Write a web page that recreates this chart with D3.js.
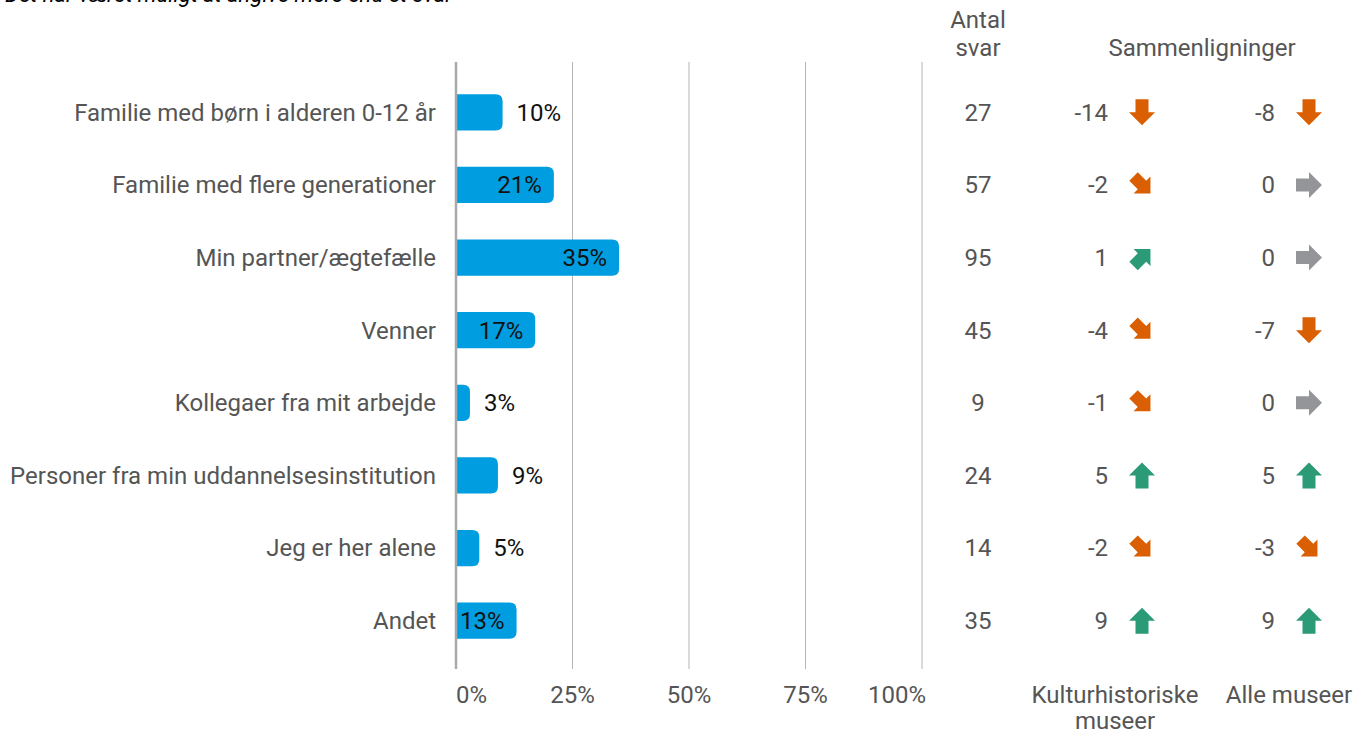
<!DOCTYPE html>
<html><head><meta charset="utf-8">
<script src="https://cdn.jsdelivr.net/npm/d3@7"></script>
<style>
body{margin:0;background:#fff;}
svg{display:block;font-family:Roboto, sans-serif;}
</style></head>
<body><svg id="c" width="1354" height="734"></svg>
<script>
const subtitle = "Det har været muligt at angive mere end ét svar";
const categories = ["Familie med børn i alderen 0-12 år","Familie med flere generationer","Min partner/ægtefælle","Venner","Kollegaer fra mit arbejde","Personer fra min uddannelsesinstitution","Jeg er her alene","Andet"];
const percents = [10,21,35,17,3,9,5,13];
const antalSvar = [27,57,95,45,9,24,14,35];
const compKultur = [-14,-2,1,-4,-1,5,-2,9];
const compAlle = [-8,0,0,-7,0,5,-3,9];
const tickValues = [0,25,50,75,100];
const compHeaders = ["Kulturhistoriske\nmuseer","Alle museer"];

const FS = 24;
const svg = d3.select("#c");
const x = d3.scaleLinear().domain([0,100]).range([456,922]);
const y = d3.scaleBand().domain(categories).range([76,657]).paddingInner(0.5).paddingOuter(0.25);

// subtitle (clipped at top)
svg.append("text").attr("x",5).attr("y",2).attr("font-size",22).attr("font-style","italic").attr("fill","#000").text(subtitle);

// grid
svg.append("g").selectAll("line").data(tickValues.slice(1)).join("line")
  .attr("x1",d=>x(d)).attr("x2",d=>x(d)).attr("y1",62).attr("y2",669)
  .attr("stroke","#b5b5b5").attr("stroke-width",1);

// bars (rounded right end only)
const bh = y.bandwidth(), r = 7;
svg.append("g").selectAll("path").data(categories).join("path")
  .attr("d",(d,i)=>{
    const x0 = x(0), x1 = x(percents[i]), y0 = y(d), y1 = y0+bh;
    const rr = Math.min(r,(x1-x0));
    return `M${x0},${y0}H${x1-rr}Q${x1},${y0} ${x1},${y0+rr}V${y1-rr}Q${x1},${y1} ${x1-rr},${y1}H${x0}Z`;
  })
  .attr("fill","#009de0");

// axis line
svg.append("line").attr("x1",x(0)).attr("x2",x(0)).attr("y1",62).attr("y2",669).attr("stroke","#aaaaaa").attr("stroke-width",2.5);

// value labels
svg.append("g").selectAll("text").data(categories).join("text")
  .attr("x",(d,i)=> percents[i]>=13 ? x(percents[i])-12 : x(percents[i])+14)
  .attr("text-anchor",(d,i)=> percents[i]>=13 ? "end" : "start")
  .attr("y",d=>y(d)+bh/2).attr("dy","0.35em")
  .attr("font-size",FS).attr("fill","#111")
  .text((d,i)=>percents[i]+"%");

// category labels
svg.append("g").selectAll("text").data(categories).join("text")
  .attr("x",436).attr("y",d=>y(d)+bh/2).attr("dy","0.35em")
  .attr("text-anchor","end").attr("font-size",FS).attr("fill","#555")
  .text(d=>d);

// tick labels
svg.append("g").selectAll("text").data(tickValues).join("text")
  .attr("x",d=>d===0?x(d):d===100?x(d)+4:x(d))
  .attr("text-anchor",d=>d===0?"start":d===100?"end":"middle")
  .attr("y",695).attr("dy","0.35em")
  .attr("font-size",FS).attr("fill","#555")
  .text(d=>d+"%");

// Antal svar
svg.append("text").attr("x",978).attr("y",20).attr("dy","0.35em").attr("text-anchor","middle").attr("font-size",FS).attr("fill","#555").text("Antal");
svg.append("text").attr("x",978).attr("y",48).attr("dy","0.35em").attr("text-anchor","middle").attr("font-size",FS).attr("fill","#555").text("svar");
svg.append("g").selectAll("text").data(categories).join("text")
  .attr("x",978).attr("y",d=>y(d)+bh/2).attr("dy","0.35em")
  .attr("text-anchor","middle").attr("font-size",FS).attr("fill","#555")
  .text((d,i)=>antalSvar[i]);

// comparisons
svg.append("text").attr("x",1202).attr("y",48).attr("dy","0.35em").attr("text-anchor","middle").attr("font-size",FS).attr("fill","#555").text("Sammenligninger");

const arrowPath = "M-13,-6.5H0V-13L13,0L0,13V6.5H-13Z";
function arrowInfo(v){
  if(v<=-5) return {rot:90,col:"#d95f02"};
  if(v<0) return {rot:45,col:"#d95f02"};
  if(v===0) return {rot:0,col:"#939598"};
  if(v<5) return {rot:-45,col:"#2a9b76"};
  return {rot:-90,col:"#2a9b76"};
}
const cols = [{vals:compKultur,numX:1108,arX:1142,headX:1115},{vals:compAlle,numX:1275,arX:1309,headX:1289}];
cols.forEach((c,ci)=>{
  const g = svg.append("g");
  g.selectAll("text").data(categories).join("text")
    .attr("x",c.numX).attr("y",d=>y(d)+bh/2).attr("dy","0.35em")
    .attr("text-anchor","end").attr("font-size",FS).attr("fill","#555")
    .text((d,i)=>c.vals[i]);
  g.selectAll("path").data(categories).join("path")
    .attr("d",arrowPath)
    .attr("transform",(d,i)=>{const a=arrowInfo(c.vals[i]);const s=a.rot%90!==0?0.92:1;return `translate(${c.arX},${y(d)+bh/2}) rotate(${a.rot}) scale(${s})`;})
    .attr("fill",(d,i)=>arrowInfo(c.vals[i]).col);
  const lines = compHeaders[ci].split("\n");
  lines.forEach((t,li)=>{
    svg.append("text").attr("x",c.headX).attr("y",695+li*26).attr("dy","0.35em").attr("text-anchor","middle").attr("font-size",FS).attr("fill","#555").text(t);
  });
});
</script></body></html>
